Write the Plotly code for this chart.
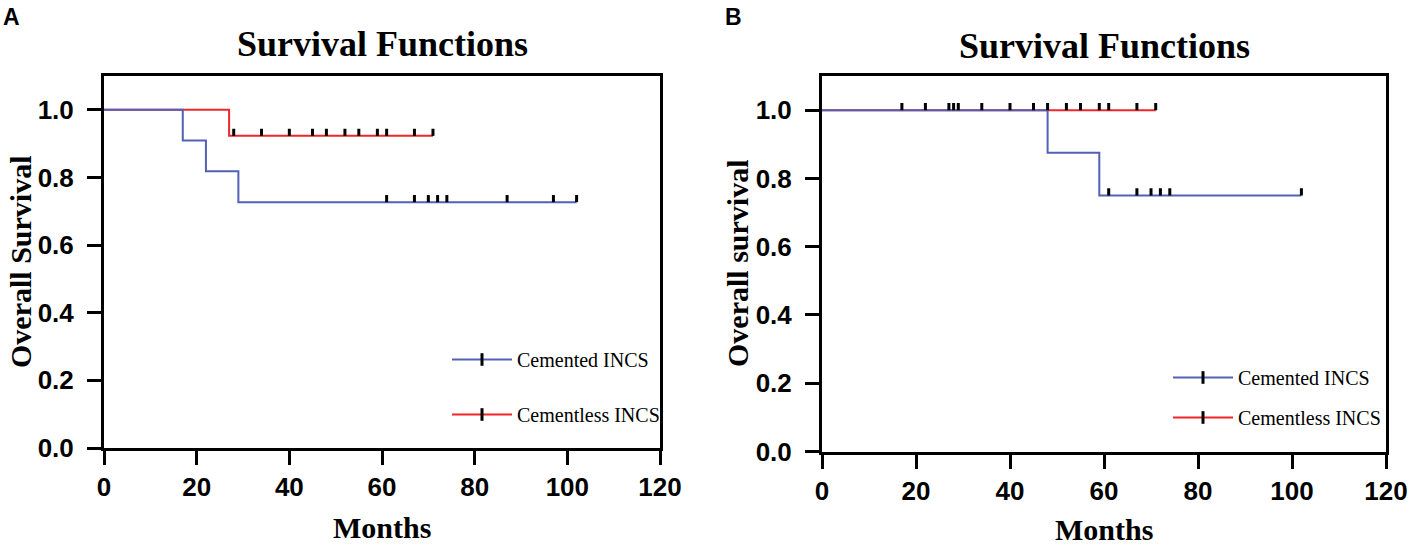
import plotly.graph_objects as go

# ---- data (months, survival) ----
# Panel A: overall survival
a_cem_t = [0, 17, 22, 29, 102]
a_cem_s = [1.0, 0.909, 0.818, 0.727, 0.727]
a_cem_censor = [61, 67, 70, 72, 74, 87, 97, 102]

a_cls_t = [0, 27, 71]
a_cls_s = [1.0, 0.923, 0.923]
a_cls_censor = [28, 34, 40, 45, 48, 52, 55, 59, 61, 67, 71]

# Panel B
b_cem_t = [0, 48, 59, 102]
b_cem_s = [1.0, 0.875, 0.75, 0.75]
b_cem_censor = [17, 22, 29, 61, 67, 70, 72, 74, 102]

b_cls_t = [0, 71]
b_cls_s = [1.0, 1.0]
b_cls_censor = [27, 28, 34, 40, 45, 48, 52, 55, 59, 61, 67, 71]

x_ticks = [0, 20, 40, 60, 80, 100, 120]
y_ticks = [0.0, 0.2, 0.4, 0.6, 0.8, 1.0]

BLUE = "#5260B6"
RED = "#F0262B"
W, H = 1410, 546
SERIF = "Liberation Serif"
SANS = "Liberation Sans"
TICK_H = 0.021  # height of censor marks in survival units


def level_at(t_steps, s_steps, t):
    # value of the step curve at time t
    v = s_steps[0]
    for tt, ss in zip(t_steps, s_steps):
        if tt <= t:
            v = ss
    return v


def censor_xy(t_steps, s_steps, censor):
    xs, ys = [], []
    for c in censor:
        y0 = level_at(t_steps, s_steps, c)
        xs += [c, c, None]
        ys += [y0, y0 + TICK_H, None]
    return xs, ys


fig = go.Figure()

panels = [
    ("x", "y", "legend", [(a_cls_t, a_cls_s, a_cls_censor, RED), (a_cem_t, a_cem_s, a_cem_censor, BLUE)]),
    ("x2", "y2", "legend2", [(b_cls_t, b_cls_s, b_cls_censor, RED), (b_cem_t, b_cem_s, b_cem_censor, BLUE)]),
]

for xa, ya, leg, curves in panels:
    # red drawn first so blue sits on top where they overlap
    for t, s, cens, col in curves:
        fig.add_trace(go.Scatter(x=t, y=s, mode="lines", line=dict(color=col, width=2, shape="hv"),
                                 xaxis=xa, yaxis=ya, showlegend=False, hoverinfo="skip"))
    for t, s, cens, col in curves:
        cx, cy = censor_xy(t, s, cens)
        fig.add_trace(go.Scatter(x=cx, y=cy, mode="lines", line=dict(color="black", width=3),
                                 xaxis=xa, yaxis=ya, showlegend=False, hoverinfo="skip"))
    # legend entries
    for name, col, grp in [("Cemented INCS", BLUE, "g1"), ("Cementless INCS", RED, "g2")]:
        fig.add_trace(go.Scatter(x=[None], y=[None], mode="lines+markers", name=name,
                                 line=dict(color=col, width=2),
                                 marker=dict(symbol="line-ns", size=9, color="black",
                                             line=dict(color="black", width=3)),
                                 xaxis=xa, yaxis=ya, legend=leg, legendgroup=grp + leg))

# ---- axes ----
axis_common = dict(showline=True, linewidth=3, linecolor="black", mirror=True,
                   ticks="outside", ticklen=14, tickwidth=3, tickcolor="black",
                   showgrid=False, zeroline=False, automargin=False,
                   tickfont=dict(family=SANS, size=26, color="black", weight="bold"))

fig.update_layout(
    xaxis=dict(domain=[104 / W, 660 / W], range=[0, 120], tickvals=x_ticks, anchor="y",
               ticklabelstandoff=0, **axis_common),
    yaxis=dict(domain=[1 - 448 / H, 1 - 76 / H], range=[0, 1.1], tickvals=y_ticks, tickformat=".1f",
               anchor="x", ticklabelstandoff=8, **axis_common),
    xaxis2=dict(domain=[822 / W, 1386 / W], range=[0, 120], tickvals=x_ticks, anchor="y2",
                ticklabelstandoff=0, **axis_common),
    yaxis2=dict(domain=[1 - 451.5 / H, 1 - 76 / H], range=[0, 1.1], tickvals=y_ticks, tickformat=".1f",
                anchor="x2", ticklabelstandoff=8, **axis_common),
)

# ---- text ----
def note(text, x, y, size, family, bold=True, angle=0):
    fig.add_annotation(text=text, x=x / W, y=1 - y / H, xref="paper", yref="paper",
                       showarrow=False, textangle=angle, xanchor="center", yanchor="middle",
                       font=dict(family=family, size=size, color="black",
                                 weight="bold" if bold else "normal"))

note("A", 11, 17, 23, SANS)
note("B", 733, 17, 23, SANS)
note("Survival Functions", 382, 44, 36, SERIF)
note("Survival Functions", 1104, 46, 36, SERIF)
note("Overall Survival", 20, 262, 30, SERIF, angle=-90)
note("Overall survival", 737, 264, 30, SERIF, angle=-90)
note("Months", 382, 527, 30, SERIF)
note("Months", 1104, 529, 30, SERIF)

legend_common = dict(font=dict(family=SERIF, size=20, color="black"), bgcolor="rgba(0,0,0,0)",
                     xanchor="left", yanchor="top", itemwidth=60)
fig.update_layout(
    legend=dict(x=447 / W, y=1 - 340 / H, tracegroupgap=26, **legend_common),
    legend2=dict(x=1168 / W, y=1 - 358 / H, tracegroupgap=11, **legend_common),
    width=W, height=H,
    margin=dict(l=0, r=0, t=0, b=0),
    paper_bgcolor="white", plot_bgcolor="white",
    showlegend=True,
)

# page body has a default 8px margin; drop it so the figure sits at the window corner
fig.write_html("out.html", config={"displayModeBar": False},
               post_script="document.body.style.margin = '0px';")
